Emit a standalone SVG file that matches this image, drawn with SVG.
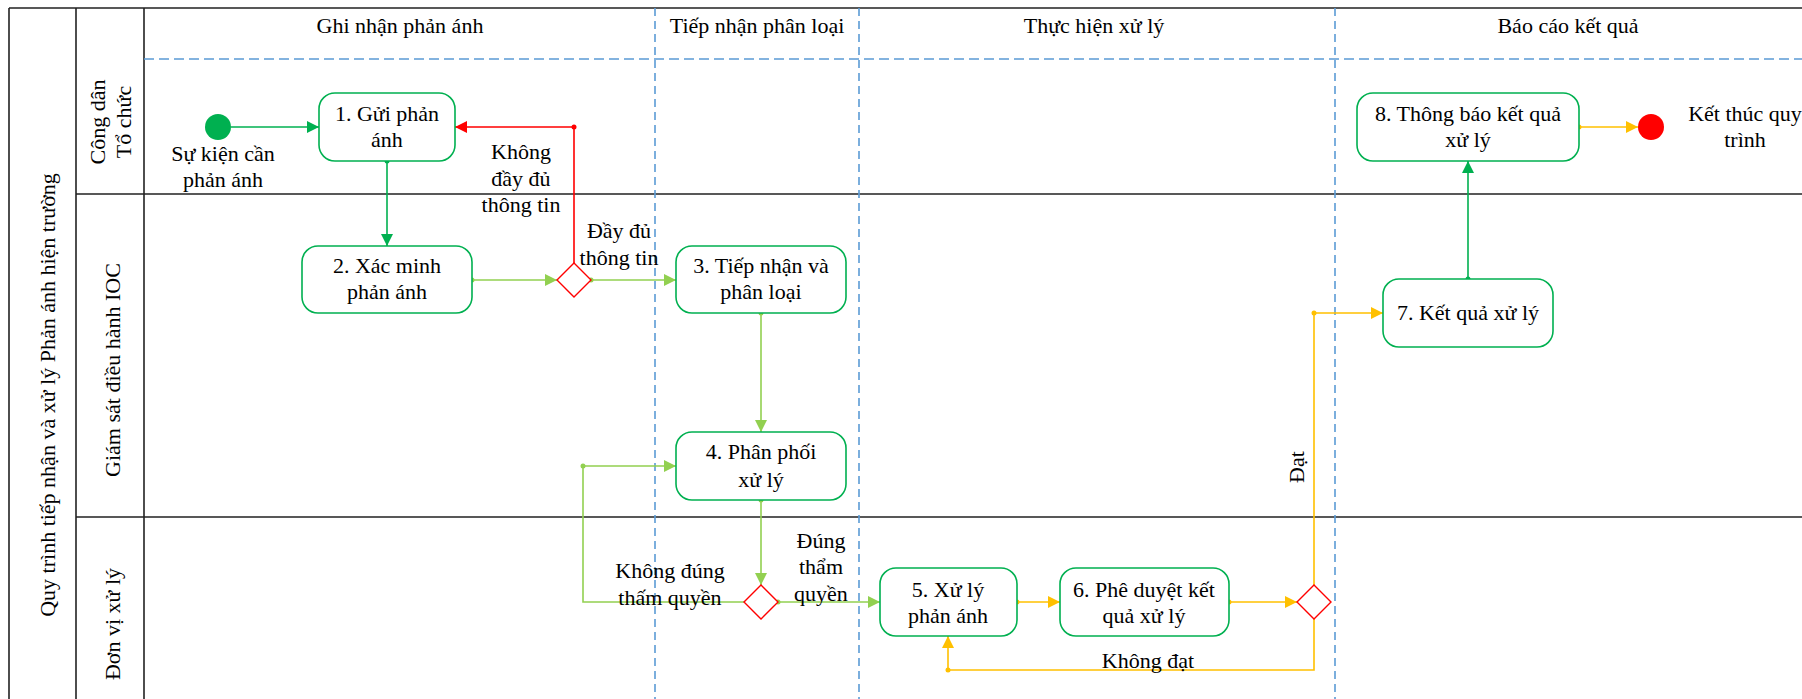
<svg xmlns="http://www.w3.org/2000/svg" width="1802" height="699" viewBox="0 0 1802 699">
<defs>
<style>
text{font-family:"Liberation Serif","Times New Roman",serif;font-size:22px;fill:#000;text-anchor:middle}
.frame{stroke:#222;stroke-width:1.6;fill:none}
.dash{stroke:#5b9bd5;stroke-width:1.6;fill:none}
.node{fill:#fff;stroke:#00b050;stroke-width:1.6}
.dia{fill:#fff;stroke:#ff0000;stroke-width:1.4}
.c{fill:none;stroke-width:1.6}
.g{stroke:#00b050}
.lg{stroke:#92d050}
.y{stroke:#ffc000}
.r{stroke:#ff0000}
.dg{fill:#00b050}
.dlg{fill:#92d050}
.dy{fill:#ffc000}
.dr{fill:#ff0000}
</style>
<marker id="ag" markerUnits="userSpaceOnUse" markerWidth="13" markerHeight="13" refX="12" refY="6" orient="auto"><path d="M0,0 L12,6 L0,12 z" fill="#00b050"/></marker>
<marker id="alg" markerUnits="userSpaceOnUse" markerWidth="13" markerHeight="13" refX="12" refY="6" orient="auto"><path d="M0,0 L12,6 L0,12 z" fill="#92d050"/></marker>
<marker id="ay" markerUnits="userSpaceOnUse" markerWidth="13" markerHeight="13" refX="12" refY="6" orient="auto"><path d="M0,0 L12,6 L0,12 z" fill="#ffc000"/></marker>
<marker id="ar" markerUnits="userSpaceOnUse" markerWidth="13" markerHeight="13" refX="12" refY="6" orient="auto"><path d="M0,0 L12,6 L0,12 z" fill="#ff0000"/></marker>
</defs>
<rect width="1802" height="699" fill="#fff"/>

<g id="pool">
<path class="frame" d="M9,8 H1802 M9,8 V699 M76,8 V699 M144,8 V699 M76,194 H1802 M76,517 H1802"/>
<path class="dash" stroke-dasharray="10 5" d="M144,59 H1802"/>
<path class="dash" stroke-dasharray="8 5" d="M655,8 V699 M859,8 V699 M1335,8 V699"/>
<text transform="translate(55,395) rotate(-90)">Quy trình tiếp nhận và xử lý Phản ánh hiện trường</text>
</g>

<g id="lanes">
<g id="lane-congdan"><text transform="translate(105,122) rotate(-90)">Công dân</text><text transform="translate(131,122) rotate(-90)">Tổ chức</text></g>
<g id="lane-ioc"><text transform="translate(120,370) rotate(-90)">Giám sát điều hành IOC</text></g>
<g id="lane-donvi"><text transform="translate(120,624) rotate(-90)">Đơn vị xử lý</text></g>
</g>

<g id="phases">
<text x="400" y="33">Ghi nhận phản ánh</text>
<text x="757" y="33">Tiếp nhận phân loại</text>
<text x="1094" y="33">Thực hiện xử lý</text>
<text x="1568" y="33">Báo cáo kết quả</text>
</g>

<g id="connectors">
<path class="c g" d="M231,127 H319" marker-end="url(#ag)"/>
<path class="c g" d="M387,161 V246" marker-end="url(#ag)"/>
<circle class="dg" cx="387" cy="161" r="2.5"/>
<path class="c lg" d="M472,280 H557" marker-end="url(#alg)"/>
<circle class="dlg" cx="472" cy="280" r="2.5"/>
<path class="c lg" d="M591,280 H676" marker-end="url(#alg)"/>
<circle class="dlg" cx="591" cy="280" r="2.5"/>
<path class="c r" d="M574,263 V127 H455" marker-end="url(#ar)"/>
<circle class="dr" cx="574" cy="127" r="2.5"/>
<path class="c lg" d="M761,313 V432" marker-end="url(#alg)"/>
<circle class="dlg" cx="761" cy="313" r="2.5"/>
<path class="c lg" d="M761,500 V585" marker-end="url(#alg)"/>
<circle class="dlg" cx="761" cy="500" r="2.5"/>
<path class="c lg" d="M778,602 H880" marker-end="url(#alg)"/>
<circle class="dlg" cx="778" cy="602" r="2.5"/>
<path class="c lg" d="M744,602 H583 V466 H676" marker-end="url(#alg)"/>
<circle class="dlg" cx="583" cy="466" r="2.5"/>
<path class="c y" d="M1017,602 H1060" marker-end="url(#ay)"/>
<circle class="dy" cx="1017" cy="602" r="2.5"/>
<path class="c y" d="M1229,602 H1297" marker-end="url(#ay)"/>
<circle class="dy" cx="1229" cy="602" r="2.5"/>
<path class="c y" d="M1314,619 V670 H948 V636" marker-end="url(#ay)"/>
<circle class="dy" cx="948" cy="670" r="2.5"/>
<path class="c y" d="M1314,585 V313 H1383" marker-end="url(#ay)"/>
<circle class="dy" cx="1314" cy="313" r="2.5"/>
<path class="c g" d="M1468,279 V161" marker-end="url(#ag)"/>
<circle class="dg" cx="1468" cy="279" r="2.5"/>
<path class="c y" d="M1579,127 H1638" marker-end="url(#ay)"/>
<circle class="dy" cx="1579" cy="127" r="2.5"/>
<text x="521" y="159">Không</text>
<text x="521" y="186">đầy đủ</text>
<text x="521" y="212">thông tin</text>
<text x="619" y="238">Đầy đủ</text>
<text x="619" y="265">thông tin</text>
<text x="670" y="578">Không đúng</text>
<text x="670" y="605">thấm quyền</text>
<text x="821" y="548">Đúng</text>
<text x="821" y="574">thẩm</text>
<text x="821" y="601">quyền</text>
<text x="1148" y="668">Không đạt</text>
<text transform="translate(1304,467) rotate(-90)">Đạt</text>
</g>

<g id="start">
<circle cx="218" cy="127" r="13" fill="#00b050"/>
<text x="223" y="161">Sự kiện cần</text>
<text x="223" y="187">phản ánh</text>
</g>

<g id="n1"><rect class="node" x="319" y="93" width="136" height="68" rx="16"/><text x="387" y="121">1. Gửi phản</text><text x="387" y="147">ánh</text></g>
<g id="n2"><rect class="node" x="302" y="246" width="170" height="67" rx="16"/><text x="387" y="273">2. Xác minh</text><text x="387" y="299">phản ánh</text></g>
<g id="d1"><path class="dia" d="M574,263 L591,280 L574,297 L557,280 z"/></g>
<g id="n3"><rect class="node" x="676" y="246" width="170" height="67" rx="16"/><text x="761" y="273">3. Tiếp nhận và</text><text x="761" y="299">phân loại</text></g>
<g id="n4"><rect class="node" x="676" y="432" width="170" height="68" rx="16"/><text x="761" y="459">4. Phân phối</text><text x="761" y="487">xử lý</text></g>
<g id="d2"><path class="dia" d="M761,585 L778,602 L761,619 L744,602 z"/></g>
<g id="n5"><rect class="node" x="880" y="568" width="137" height="68" rx="16"/><text x="948" y="597">5. Xử lý</text><text x="948" y="623">phản ánh</text></g>
<g id="n6"><rect class="node" x="1060" y="568" width="169" height="68" rx="16"/><text x="1144" y="597">6. Phê duyệt kết</text><text x="1144" y="623">quả xử lý</text></g>
<g id="d3"><path class="dia" d="M1314,585 L1331,602 L1314,619 L1297,602 z"/></g>
<g id="n7"><rect class="node" x="1383" y="279" width="170" height="68" rx="16"/><text x="1468" y="320">7. Kết quả xử lý</text></g>
<g id="n8"><rect class="node" x="1357" y="93" width="222" height="68" rx="16"/><text x="1468" y="121">8. Thông báo kết quả</text><text x="1468" y="147">xử lý</text></g>
<g id="end">
<circle cx="1651" cy="127" r="13" fill="#ff0000"/>
<text x="1745" y="121">Kết thúc quy</text>
<text x="1745" y="147">trình</text>
</g>
</svg>
